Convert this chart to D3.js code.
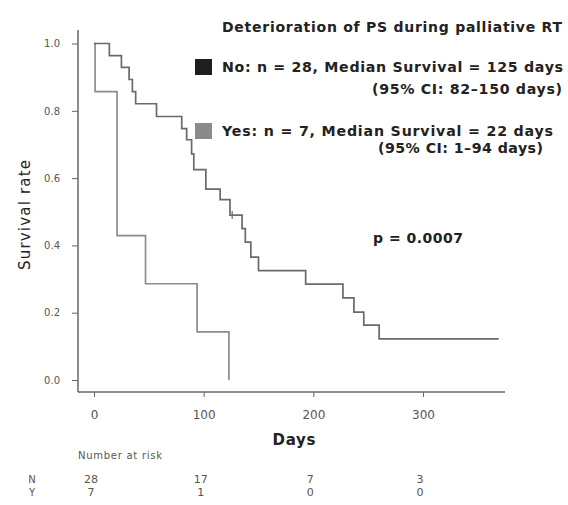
<!DOCTYPE html>
<html><head><meta charset="utf-8">
<script src="https://cdn.jsdelivr.net/npm/d3@7"></script>
<style>body{margin:0;background:#fff}svg{display:block}text{font-family:"DejaVu Sans",sans-serif}</style>
</head><body>
<svg id="c" width="568" height="505"></svg>
<script>
// ---- data ----
const noTimes = [0, 14, 25, 32, 35, 38, 57, 80, 84.5, 89, 91, 102, 115, 124, 135, 138, 143, 150, 193, 227, 237, 246, 260, 369];
const noSurv  = [1.0, 0.964, 0.929, 0.893, 0.857, 0.821, 0.783, 0.747, 0.714, 0.672, 0.625, 0.567, 0.536, 0.49, 0.45, 0.41, 0.365, 0.325, 0.285, 0.244, 0.202, 0.163, 0.122, 0.122];
const yesTimes = [0, 1, 21, 47, 94, 123];
const yesSurv  = [1.0, 0.857, 0.429, 0.286, 0.143, 0.0];
const censorTimes = [126];
const censorSurv = [0.49];
const yTicks = [0, 0.2, 0.4, 0.6, 0.8, 1.0];
const xTicks = [0, 100, 200, 300];
const riskGroups = ["N", "Y"];
const riskNo = [28, 17, 7, 3];
const riskYes = [7, 1, 0, 0];
const legendLabels = ["No: n = 28, Median Survival = 125 days", "Yes: n = 7, Median Survival = 22 days"];
const legendCI = ["(95% CI: 82\u2013150 days)", "(95% CI: 1\u201394 days)"];
const legendColors = ["#1e1e1e", "#8a8a8a"];
const curveColors = ["#6a6a6a", "#8c8c8c"];

// ---- drawing ----
const svg = d3.select("#c");
const x = d3.scaleLinear().domain([0, 300]).range([94, 423]);
const y = d3.scaleLinear().domain([0, 1]).range([380, 43.5]);

function txt(xp, yp, s, size, opts) {
  opts = opts || {};
  const t = svg.append("text").attr("x", xp).attr("y", yp).attr("dy", "0.35em")
    .attr("text-anchor", opts.anchor || "start")
    .style("font-size", size + "px").style("font-weight", opts.bold ? "bold" : "normal")
    .attr("fill", opts.fill || "#222").text(s);
  if (opts.len) t.attr("textLength", opts.len).attr("lengthAdjust", "spacing");
  if (opts.transform) t.attr("transform", opts.transform);
  return t;
}

// axes lines
svg.append("line").attr("x1", 78).attr("x2", 78).attr("y1", 30).attr("y2", 392).attr("stroke", "#666").attr("stroke-width", 1.5);
svg.append("line").attr("x1", 78).attr("x2", 505).attr("y1", 392).attr("y2", 392).attr("stroke", "#666").attr("stroke-width", 1.5);

const ya = svg.append("g").attr("transform", "translate(78,0)")
  .call(d3.axisLeft(y).tickValues(yTicks).tickFormat(d3.format(".1f")).tickSize(6).tickPadding(12));
ya.select(".domain").remove();
ya.selectAll("line").attr("stroke", "#666");
ya.selectAll("text").attr("fill", "#555").style("font-size", "10px");

const xa = svg.append("g").attr("transform", "translate(0,392)")
  .call(d3.axisBottom(x).tickValues(xTicks).tickSize(5).tickPadding(13));
xa.select(".domain").remove();
xa.selectAll("line").attr("stroke", "#666");
xa.selectAll("text").attr("fill", "#555").style("font-size", "12px");

// curves
const line = d3.line().x(d => x(d[0])).y(d => y(d[1])).curve(d3.curveStepAfter);
svg.append("path").datum(yesTimes.map((t, i) => [t, yesSurv[i]]))
  .attr("d", line).attr("fill", "none").attr("stroke", curveColors[1]).attr("stroke-width", 1.7);
svg.append("path").datum(noTimes.map((t, i) => [t, noSurv[i]]))
  .attr("d", line).attr("fill", "none").attr("stroke", curveColors[0]).attr("stroke-width", 1.7);
svg.selectAll(".cens").data(censorTimes).enter().append("line")
  .attr("x1", d => x(d)).attr("x2", d => x(d))
  .attr("y1", (d, i) => y(censorSurv[i]) - 4).attr("y2", (d, i) => y(censorSurv[i]) + 4)
  .attr("stroke", curveColors[0]).attr("stroke-width", 1.2);

// axis titles
txt(0, 0, "Survival rate", 15, {anchor: "middle", len: 110, transform: "translate(25,215) rotate(-90)"});
txt(294, 440, "Days", 15, {anchor: "middle", bold: true, len: 43});

// title & legend
txt(222, 27, "Deterioration of PS during palliative RT", 14, {bold: true, len: 340});
const legY = [67, 131];
const ciY = [89, 148];
const legLen = [341, 331];
const ciX = [372, 378];
const ciLen = [190, 165];
legendLabels.forEach((lab, i) => {
  svg.append("rect").attr("x", 195).attr("y", legY[i] - 8).attr("width", 17).attr("height", 16).attr("fill", legendColors[i]);
  txt(222, legY[i], lab, 14.2, {bold: true, len: legLen[i]});
  txt(ciX[i], ciY[i], legendCI[i], 14.2, {bold: true, len: ciLen[i]});
});
txt(373, 238, "p = 0.0007", 14, {bold: true, len: 90});

// risk table
txt(78, 455, "Number at risk", 10, {fill: "#555", len: 84});
const rowY = [479, 492];
[riskNo, riskYes].forEach((row, r) => {
  txt(32, rowY[r], riskGroups[r], 10, {anchor: "middle", fill: "#555"});
  svg.selectAll(null).data(row).enter().append("text")
    .attr("x", (d, i) => x(xTicks[i]) - 3).attr("y", rowY[r]).attr("text-anchor", "middle").attr("dy", "0.35em")
    .style("font-size", "11px").attr("fill", "#555").text(d => d);
});
</script>
</body></html>
